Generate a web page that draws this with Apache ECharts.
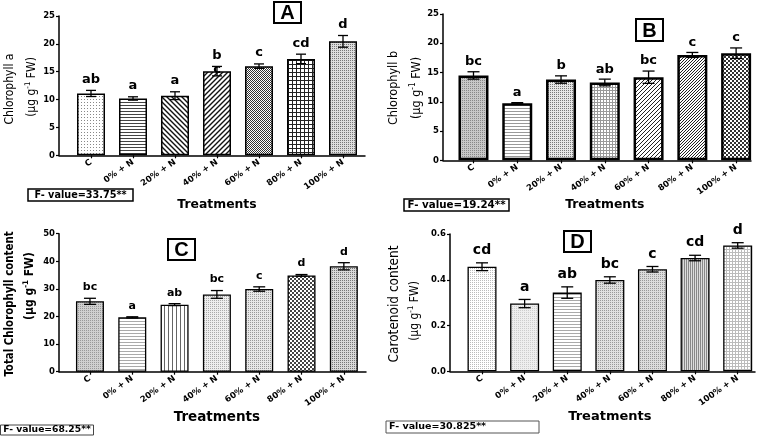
<!DOCTYPE html>
<html>
<head>
<meta charset="utf-8">
<script src="https://cdn.jsdelivr.net/npm/echarts@6/dist/echarts.min.js"></script>
<style>
html, body { margin: 0; padding: 0; background: #fff; }
#chart { width: 768px; height: 436px; }
</style>
</head>
<body>
<div id="chart"></div>
<script>
'use strict';

const treatments = ['C', '0% + N', '20% + N', '40% + N', '60% + N', '80% + N', '100% + N'];

// A - chlorophyll a
const chlA = [11.1, 10.2, 10.7, 15.1, 16.0, 17.3, 20.45];
const chlAErr = [0.55, 0.3, 0.7, 0.85, 0.4, 0.85, 1.05];
const chlALetters = ['ab', 'a', 'a', 'b\nc', 'c', 'cd', 'd'];
const chlATicks = [0, 5, 10, 15, 20, 25];

// B - chlorophyll b
const chlB = [14.5, 9.75, 13.8, 13.3, 14.2, 18.0, 18.3];
const chlBErr = [0.63, 0.1, 0.63, 0.57, 1.05, 0.43, 0.9];
const chlBLetters = ['bc', 'a', 'b', 'ab', 'bc', 'c', 'c'];
const chlBTicks = [0, 5, 10, 15, 20, 25];

// C - total chlorophyll
const totChl = [25.5, 19.7, 24.3, 28.0, 29.95, 34.9, 38.2];
const totChlErr = [1.1, 0.2, 0.35, 1.4, 0.8, 0.3, 1.3];
const totChlLetters = ['bc', 'a', 'ab', 'bc', 'c', 'd', 'd'];
const totChlTicks = [0, 10, 20, 30, 40, 50];

// D - carotenoid
const carot = [0.457, 0.296, 0.344, 0.399, 0.446, 0.495, 0.550];
const carotErr = [0.017, 0.018, 0.025, 0.014, 0.012, 0.012, 0.012];
const carotLetters = ['cd', 'a', 'ab', 'bc', 'c', 'cd', 'd'];
const carotTicks = [0, 0.2, 0.4, 0.6];

const panelNames = ['A', 'B', 'C', 'D'];
const yTitles = ['Chlorophyll a', 'Chlorophyll b', 'Total Chlorophyll content', 'Carotenoid content'];
const fValues = ['F- value=33.75**', 'F- value=19.24**', 'F- value=68.25**', 'F- value=30.825**'];

const BOLD = '"DejaVu Sans", sans-serif';
const NARROW = '"Liberation Sans Narrow", "DejaVu Sans Condensed", sans-serif';

// small repeating fills, like the prism hatch patterns
function makePattern(kind, fg, bg, s, lw) {
    const c = document.createElement('canvas');
    c.width = s;
    c.height = s;
    const g = c.getContext('2d');
    g.fillStyle = bg;
    g.fillRect(0, 0, s, s);
    g.fillStyle = fg;
    g.strokeStyle = fg;
    if (kind === 'dots') {
        g.fillRect(0, 0, 1, 1);
    } else if (kind === 'hlines') {
        g.fillRect(0, 0, s, 1);
    } else if (kind === 'vlines') {
        g.fillRect(0, 0, 1, s);
    } else if (kind === 'grid') {
        g.fillRect(0, 0, s, 1);
        g.fillRect(0, 0, 1, s);
    } else if (kind === 'check') {
        g.fillRect(0, 0, s / 2, s / 2);
        g.fillRect(s / 2, s / 2, s / 2, s / 2);
    } else if (kind === 'up' || kind === 'down') {
        g.lineWidth = lw || 1;
        g.beginPath();
        if (kind === 'up') {
            g.moveTo(0, s); g.lineTo(s, 0);
            g.moveTo(-s / 2, s / 2); g.lineTo(s / 2, -s / 2);
            g.moveTo(s / 2, s * 1.5); g.lineTo(s * 1.5, s / 2);
        } else {
            g.moveTo(0, 0); g.lineTo(s, s);
            g.moveTo(-s / 2, s / 2); g.lineTo(s / 2, s * 1.5);
            g.moveTo(s / 2, -s / 2); g.lineTo(s * 1.5, s / 2);
        }
        g.stroke();
    }
    return { image: c, repeat: 'repeat' };
}

const fillsA = [
    makePattern('dots', '#888', '#fff', 3),
    makePattern('hlines', '#444', '#fff', 3),
    makePattern('down', '#111', '#fff', 5, 1.4),
    makePattern('up', '#111', '#fff', 5, 1.4),
    makePattern('check', '#333', '#fff', 2),
    makePattern('grid', '#222', '#fff', 4),
    makePattern('dots', '#777', '#ddd', 2)
];
const fillsB = [
    makePattern('dots', '#888', '#c8c8c8', 2),
    makePattern('hlines', '#999', '#fff', 3),
    makePattern('dots', '#777', '#e6e6e6', 2),
    makePattern('grid', '#999', '#fff', 3),
    makePattern('up', '#222', '#fff', 4, 1),
    makePattern('up', '#222', '#fff', 3, 1),
    makePattern('check', '#333', '#fff', 4)
];
const fillsC = [
    makePattern('dots', '#999', '#d0d0d0', 2),
    makePattern('hlines', '#aaa', '#fff', 3),
    makePattern('vlines', '#666', '#fff', 4),
    makePattern('dots', '#aaa', '#eee', 2),
    makePattern('dots', '#999', '#e8e8e8', 2),
    makePattern('check', '#444', '#fff', 4),
    makePattern('dots', '#777', '#d8d8d8', 2)
];
const fillsD = [
    makePattern('dots', '#bbb', '#fff', 2),
    makePattern('dots', '#ccc', '#eee', 2),
    makePattern('hlines', '#aaa', '#fff', 3),
    makePattern('dots', '#999', '#e0e0e0', 2),
    makePattern('dots', '#999', '#ddd', 2),
    makePattern('vlines', '#888', '#ddd', 2),
    makePattern('grid', '#bbb', '#fff', 3)
];

// layout of each panel (pixels)
const panels = [
    { vals: chlA, errs: chlAErr, letters: chlALetters, ticks: chlATicks, fills: fillsA,
      yx: 59, xEnd: 365, top: 16, bottom: 155.3, bandL: 70, bandR: 364, barW: 28, border: 1.5,
      cap: 5, letterSize: 13, letterLH: 14, letterGap: 4, nameSize: 12.4, nameGap: 43 },
    { vals: chlB, errs: chlBErr, letters: chlBLetters, ticks: chlBTicks, fills: fillsB,
      yx: 443, xEnd: 751, top: 14, bottom: 160.3, bandL: 451.6, bandR: 758, barW: 30, border: 2.5,
      cap: 6, letterSize: 13, letterLH: 14, letterGap: 3, nameSize: 12.4, nameGap: 38.5 },
    { vals: totChl, errs: totChlErr, letters: totChlLetters, ticks: totChlTicks, fills: fillsC,
      yx: 59, xEnd: 366, top: 233.7, bottom: 371.7, bandL: 68.8, bandR: 365, barW: 28, border: 1.3,
      cap: 6, letterSize: 11, letterLH: 12, letterGap: 5, nameSize: 13.5, nameGap: 36 },
    { vals: carot, errs: carotErr, letters: carotLetters, ticks: carotTicks, fills: fillsD,
      yx: 450, xEnd: 755, top: 234, bottom: 371.3, bandL: 460.7, bandR: 759, barW: 29, border: 1.3,
      cap: 6, letterSize: 14, letterLH: 15, letterGap: 5, nameSize: 13, nameGap: 37 }
];

function errorRender(p) {
    return function (params, api) {
        const i = api.value(0);
        const m = api.value(1);
        const e = api.value(2);
        const hi = api.coord([i, m + e]);
        const lo = api.coord([i, m - e]);
        const st = { stroke: '#000', lineWidth: 1.3 };
        return {
            type: 'group',
            children: [
                { type: 'line', shape: { x1: hi[0], y1: hi[1], x2: lo[0], y2: lo[1] }, style: st },
                { type: 'line', shape: { x1: hi[0] - p.cap, y1: hi[1], x2: hi[0] + p.cap, y2: hi[1] }, style: st },
                { type: 'line', shape: { x1: lo[0] - p.cap, y1: lo[1], x2: lo[0] + p.cap, y2: lo[1] }, style: st },
                {
                    type: 'text',
                    x: hi[0],
                    y: hi[1] - p.letterGap - p.letterLH,
                    style: {
                        text: p.letters[params.dataIndex],
                        fill: '#000',
                        fontFamily: BOLD,
                        fontWeight: 'bold',
                        fontSize: p.letterSize,
                        lineHeight: p.letterLH,
                        align: 'center',
                        verticalAlign: 'top'
                    }
                }
            ]
        };
    };
}

const grid = [];
const xAxis = [];
const yAxis = [];
const series = [];

panels.forEach((p, k) => {
    const tickMin = p.ticks[0];
    const tickMax = p.ticks[p.ticks.length - 1];
    const tickStep = p.ticks[1] - p.ticks[0];
    const frame = 2 * k;
    const inner = 2 * k + 1;

    grid.push({ left: p.yx, top: p.top, width: p.xEnd - p.yx, height: p.bottom - p.top,
        containLabel: false, outerBoundsMode: 'none' });
    grid.push({ left: p.bandL, top: p.top, width: p.bandR - p.bandL, height: p.bottom - p.top,
        containLabel: false, outerBoundsMode: 'none' });

    xAxis.push({
        gridIndex: frame, type: 'value', min: 0, max: 1,
        axisLine: { show: true, lineStyle: { color: '#000', width: 1.5 } },
        axisTick: { show: false }, axisLabel: { show: false }, splitLine: { show: false }
    });
    xAxis.push({
        gridIndex: inner, type: 'category', data: treatments,
        name: 'Treatments', nameLocation: 'middle', nameGap: p.nameGap,
        nameTextStyle: { color: '#000', fontFamily: BOLD, fontWeight: 'bold', fontSize: p.nameSize },
        axisLine: { show: false },
        axisTick: { show: true, alignWithLabel: true, length: 3, lineStyle: { color: '#000', width: 1.2 } },
        axisLabel: { interval: 0, rotate: 35, margin: 6, color: '#000', fontFamily: BOLD, fontWeight: 'bold', fontSize: 8.5 },
        splitLine: { show: false }
    });

    yAxis.push({
        gridIndex: frame, type: 'value', min: tickMin, max: tickMax, interval: tickStep,
        axisLine: { show: true, lineStyle: { color: '#000', width: 1.5 } },
        axisTick: { show: true, length: 3, lineStyle: { color: '#000', width: 1.2 } },
        axisLabel: {
            margin: 4, color: '#000', fontFamily: BOLD, fontWeight: 'bold', fontSize: 8.5,
            formatter: v => (tickStep < 1 ? v.toFixed(1) : String(v))
        },
        splitLine: { show: false }
    });
    yAxis.push({ gridIndex: inner, type: 'value', min: tickMin, max: tickMax, show: false, splitLine: { show: false } });

    series.push({
        type: 'bar', xAxisIndex: inner, yAxisIndex: inner, barWidth: p.barW,
        itemStyle: { borderColor: '#000', borderWidth: p.border },
        emphasis: { disabled: true },
        data: p.vals.map((v, i) => ({ value: v, itemStyle: { color: p.fills[i] } }))
    });
    series.push({
        type: 'custom', xAxisIndex: inner, yAxisIndex: inner, z: 5,
        encode: { x: 0, y: 1 },
        renderItem: errorRender(p),
        data: p.vals.map((v, i) => [i, v, p.errs[i]])
    });
});

// titles, panel letters and F-value boxes
function yTitle(x, y, text, size, weight) {
    return {
        type: 'text', x: x, y: y, rotation: Math.PI / 2,
        style: {
            text: text, fill: '#000', fontFamily: NARROW, fontSize: size, fontWeight: weight,
            align: 'center', verticalAlign: 'middle', lineHeight: size + 4,
            rich: { s: { fontSize: size * 0.65, fontFamily: NARROW, fontWeight: weight, verticalAlign: 'top', lineHeight: size + 4 } }
        }
    };
}
const unit = '(µg g{s|-1} FW)';

function letterBox(x, y, w, h, text) {
    return [
        { type: 'rect', shape: { x: x, y: y, width: w, height: h }, style: { fill: '#fff', stroke: '#000', lineWidth: 2 } },
        { type: 'text', x: x + w / 2, y: y + h / 2 + 1, style: { text: text, fill: '#000', fontFamily: '"Liberation Sans", Arial, sans-serif',
            fontWeight: 'bold', fontSize: 20, align: 'center', verticalAlign: 'middle' } }
    ];
}

function fBox(x, y, w, h, text, size, lw, stroke, align) {
    return [
        { type: 'rect', shape: { x: x, y: y, width: w, height: h }, style: { fill: '#fff', stroke: stroke, lineWidth: lw } },
        { type: 'text', x: align === 'left' ? x + 3 : x + w / 2, y: y + h / 2, style: { text: text, fill: '#000', fontFamily: BOLD,
            fontWeight: 'bold', fontSize: size, align: align, verticalAlign: 'middle' } }
    ];
}

const graphic = [].concat(
    yTitle(9.5, 89, yTitles[0], 12, 'normal'),
    yTitle(32, 87, unit, 12, 'normal'),
    yTitle(394, 88, yTitles[1], 12.5, 'normal'),
    yTitle(417, 88, unit, 12.5, 'normal'),
    yTitle(10, 304, yTitles[2], 11.4, 'bold'),
    yTitle(29.5, 286, unit, 12, 'bold'),
    yTitle(394.5, 304, yTitles[3], 13.5, 'normal'),
    yTitle(415, 311, unit, 12, 'normal'),
    letterBox(274, 2, 27, 21, panelNames[0]),
    letterBox(636, 19, 27, 22, panelNames[1]),
    letterBox(168, 239, 27, 21, panelNames[2]),
    letterBox(564, 231, 27, 21, panelNames[3]),
    fBox(28, 189, 105, 12, fValues[0], 9.7, 1.5, '#000', 'center'),
    fBox(404, 199, 105, 12, fValues[1], 10.3, 1.5, '#000', 'center'),
    fBox(0.5, 425, 93, 10, fValues[2], 9.2, 1, '#444', 'center'),
    fBox(386, 421, 153, 12, fValues[3], 9.5, 1, '#555', 'left')
);

const chart = echarts.init(document.getElementById('chart'), null, { renderer: 'canvas' });
chart.setOption({
    animation: false,
    backgroundColor: '#fff',
    grid: grid,
    xAxis: xAxis,
    yAxis: yAxis,
    series: series,
    graphic: graphic
});
</script>
</body>
</html>
